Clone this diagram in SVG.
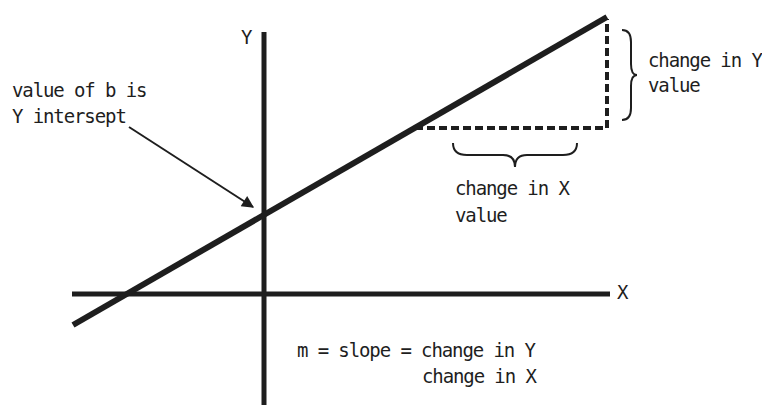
<svg xmlns="http://www.w3.org/2000/svg" width="762" height="405" viewBox="0 0 762 405">
<style>
.t{font-family:"DejaVu Sans Mono","Liberation Mono",monospace;font-size:19px;letter-spacing:-1.1px;fill:#1e1e1e}
.axis{stroke:#1e1e1e;stroke-width:5;fill:none}
.main{stroke:#1e1e1e;stroke-width:6;fill:none}
.dash{stroke:#1e1e1e;stroke-width:4;stroke-dasharray:8 4;fill:none}
.brace{stroke:#1e1e1e;stroke-width:2;fill:none}
</style>
<defs>
<marker id="ah" viewBox="0 0 10 10" refX="9" refY="5" markerWidth="7" markerHeight="6" orient="auto" markerUnits="strokeWidth">
<path d="M0,0 L10,5 L0,10 Z" fill="#1e1e1e"/>
</marker>
</defs>
<g id="axes">
<line class="axis" x1="264" y1="32" x2="264" y2="405"/>
<line class="axis" x1="72" y1="294" x2="610" y2="294"/>
<text class="t" x="241" y="44">Y</text>
<text class="t" x="617" y="299">X</text>
</g>
<g id="line">
<line class="main" x1="73" y1="325" x2="607" y2="17"/>
</g>
<g id="triangle">
<polyline class="dash" points="415,128 607,128 607,19"/>
</g>
<g id="y-brace">
<path class="brace" d="M622,30 Q631,30 631,42 L631,64 Q631,75 637,75 Q631,75 631,86 L631,108 Q631,120 622,120"/>
<text class="t" x="648" y="67">change in Y</text>
<text class="t" x="648" y="92">value</text>
</g>
<g id="x-brace">
<path class="brace" d="M453,143 Q453,155 467,155 L503,155 Q515,155 515,167 Q515,155 527,155 L563,155 Q577,155 577,143"/>
<text class="t" x="455" y="195">change in X</text>
<text class="t" x="455" y="222">value</text>
</g>
<g id="intercept-label">
<text class="t" x="12" y="97">value of b is</text>
<text class="t" x="12" y="123">Y intersept</text>
</g>
<g id="connectors">
<line x1="129" y1="127" x2="253" y2="207" stroke="#1e1e1e" stroke-width="2" marker-end="url(#ah)"/>
</g>
<g id="formula">
<text class="t" x="297" y="357">m = slope = change in Y</text>
<text class="t" x="422" y="383">change in X</text>
</g>
</svg>
